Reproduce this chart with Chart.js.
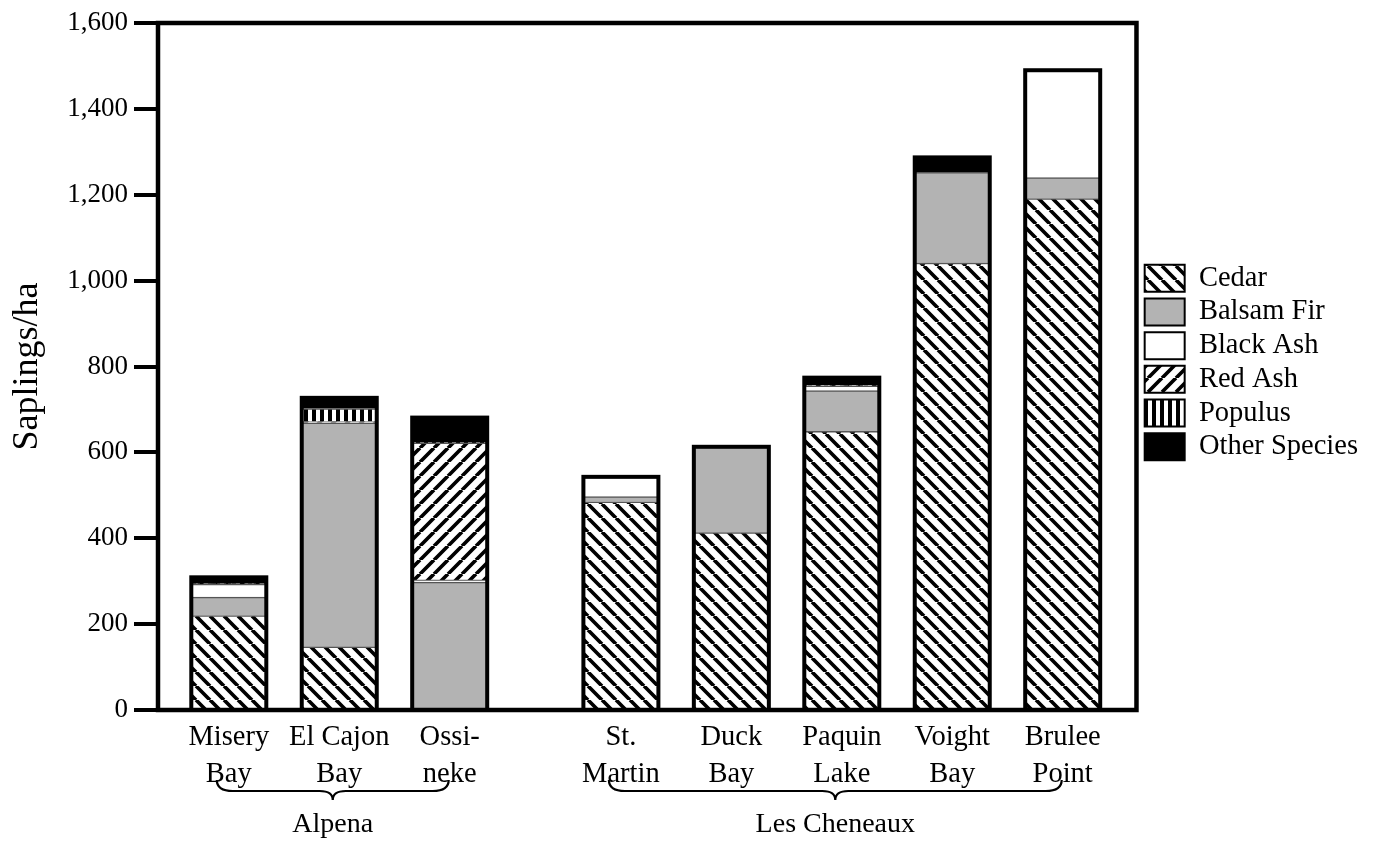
<!DOCTYPE html>
<html>
<head>
<meta charset="utf-8">
<title>Saplings per hectare by site</title>
<script src="https://cdn.jsdelivr.net/npm/chart.js@4/dist/chart.umd.min.js"></script>
<style>
  html, body { margin: 0; padding: 0; background: #fff; }
  #wrap { width: 1376px; height: 841px; }
</style>
</head>
<body>
<div id="wrap"><canvas id="c" width="1376" height="841"></canvas></div>
<script>
// Sites (two-line labels) and the region each belongs to
const sites = [
  ["Misery", "Bay"], ["El Cajon", "Bay"], ["Ossi-", "neke"],
  ["St.", "Martin"], ["Duck", "Bay"], ["Paquin", "Lake"], ["Voight", "Bay"], ["Brulee", "Point"]
];
const regions = ["Alpena", "Alpena", "Alpena",
  "Les Cheneaux", "Les Cheneaux", "Les Cheneaux", "Les Cheneaux", "Les Cheneaux"];

// Saplings/ha per species, one value per site
const cedar        = [220, 147,   0, 485, 413, 649, 1041, 1191];
const balsamFir    = [ 43, 522, 298,  12, 200,  95,  211,   49];
const blackAsh     = [ 30,   0,   5,  46,   0,  11,    0,  250];
const redAsh       = [  0,   3, 319,   0,   0,   0,    0,    0];
const populus      = [  0,  30,   0,   0,   0,   0,    0,    0];
const otherSpecies = [ 16,  25,  59,   0,   0,  19,   35,    0];

const yTicks = [0, 200, 400, 600, 800, 1000, 1200, 1400, 1600];

// Extra space (in category units) left between the two regions
const REGION_GAP = 0.55;
const regionNames = [...new Set(regions)];
const xPos = sites.map((s, i) => i + regionNames.indexOf(regions[i]) * REGION_GAP);

const SERIF = "'Liberation Serif', 'Times New Roman', Times, serif";
Chart.defaults.font.family = SERIF;
Chart.defaults.color = '#000';

// Fill patterns
function diagonal(backslash, period, width) {
  const c = document.createElement('canvas');
  c.width = c.height = period;
  const g = c.getContext('2d');
  g.fillStyle = '#fff';
  g.fillRect(0, 0, period, period);
  g.strokeStyle = '#000';
  g.lineWidth = width;
  g.beginPath();
  for (let k = -1; k <= 1; k++) {
    if (backslash) { g.moveTo(k * period, 0); g.lineTo(k * period + period, period); }
    else { g.moveTo(k * period, period); g.lineTo(k * period + period, 0); }
  }
  g.stroke();
  return g.createPattern(c, 'repeat');
}
function vertical(period, width) {
  const c = document.createElement('canvas');
  c.width = period; c.height = 4;
  const g = c.getContext('2d');
  g.fillStyle = '#fff';
  g.fillRect(0, 0, period, 4);
  g.fillStyle = '#000';
  g.fillRect(0, 0, width, 4);
  return g.createPattern(c, 'repeat');
}

const cedarFill = diagonal(true, 14, 3.7);
const redAshFill = diagonal(false, 14, 3.7);
const populusFill = vertical(8, 4);

const series = [
  { label: 'Cedar', data: cedar, fill: cedarFill },
  { label: 'Balsam Fir', data: balsamFir, fill: '#b3b3b3' },
  { label: 'Black Ash', data: blackAsh, fill: '#ffffff' },
  { label: 'Red Ash', data: redAsh, fill: redAshFill },
  { label: 'Populus', data: populus, fill: populusFill },
  { label: 'Other Species', data: otherSpecies, fill: '#000000' }
];

const datasets = series.map(s => ({
  label: s.label,
  data: s.data.map((v, i) => ({ x: xPos[i], y: v })),
  backgroundColor: s.fill,
  borderColor: '#555',
  borderWidth: { top: 1.5, right: 0, bottom: 0, left: 0 },
  borderSkipped: 'start',
  barThickness: 75
}));

// Thick outline around each whole stack
const stackOutline = {
  id: 'stackOutline',
  afterDatasetsDraw(chart) {
    const { ctx } = chart;
    const y = chart.scales.y;
    const meta = chart.getDatasetMeta(0);
    ctx.save();
    ctx.lineWidth = 4;
    ctx.strokeStyle = '#000';
    meta.data.forEach((bar, i) => {
      const total = series.reduce((sum, s) => sum + s.data[i], 0);
      const { x, width } = bar.getProps(['x', 'width'], true);
      const top = y.getPixelForValue(total);
      const base = y.getPixelForValue(0);
      ctx.strokeRect(x - width / 2, top, width, base - top);
    });
    ctx.restore();
  }
};

// Box around the plotting area
const plotFrame = {
  id: 'plotFrame',
  afterDatasetsDraw(chart) {
    const { ctx, chartArea: a } = chart;
    ctx.save();
    ctx.lineWidth = 4.5;
    ctx.strokeStyle = '#000';
    ctx.strokeRect(a.left, a.top, a.right - a.left, a.bottom - a.top);
    ctx.restore();
  }
};

// Curly braces under each region's sites, with the region name
const regionBraces = {
  id: 'regionBraces',
  afterDraw(chart) {
    const { ctx } = chart;
    const xs = chart.scales.x;
    ctx.save();
    ctx.strokeStyle = '#000';
    ctx.lineWidth = 2.2;
    ctx.fillStyle = '#000';
    ctx.font = '28px ' + SERIF;
    ctx.textAlign = 'center';
    ctx.textBaseline = 'alphabetic';
    regionNames.forEach(name => {
      const idx = regions.map((r, i) => r === name ? i : -1).filter(i => i >= 0);
      const x0 = xs.getPixelForValue(xPos[idx[0]]) - 12;
      const x1 = xs.getPixelForValue(xPos[idx[idx.length - 1]]) - 1;
      const mid = (x0 + x1) / 2;
      const yTop = 780, yMid = 791, yTip = 800, r = 16;
      ctx.beginPath();
      ctx.moveTo(x0, yTop);
      ctx.quadraticCurveTo(x0, yMid, x0 + r, yMid);
      ctx.lineTo(mid - 13, yMid);
      ctx.quadraticCurveTo(mid, yMid, mid, yTip);
      ctx.quadraticCurveTo(mid, yMid, mid + 13, yMid);
      ctx.lineTo(x1 - r, yMid);
      ctx.quadraticCurveTo(x1, yMid, x1, yTop);
      ctx.stroke();
      ctx.fillText(name, mid, 832);
    });
    ctx.restore();
  }
};

// Centre the legend block beside the plotting area
const legendPlace = {
  id: 'legendPlace',
  afterLayout(chart) {
    const lg = chart.legend;
    if (!lg) return;
    const a = chart.chartArea;
    lg.left += 3; lg.right += 3;
    lg.top = a.top - 4;
    lg.bottom = a.bottom - 4;
    lg.height = lg.bottom - lg.top;
  }
};

new Chart(document.getElementById('c'), {
  type: 'bar',
  data: { datasets },
  plugins: [stackOutline, plotFrame, regionBraces, legendPlace],
  options: {
    responsive: false,
    animation: false,
    layout: { padding: { left: 0, top: 23, right: 11, bottom: 0 } },
    plugins: {
      tooltip: { enabled: false },
      legend: {
        position: 'right',
        labels: {
          font: { size: 28.5, family: SERIF },
          color: '#000',
          boxWidth: 40,
          boxHeight: 27,
          padding: 5.2,
          generateLabels(chart) {
            const base = Chart.defaults.plugins.legend.labels.generateLabels(chart);
            return base.map(item => Object.assign(item, { lineWidth: 2, strokeStyle: '#000' }));
          }
        }
      }
    },
    scales: {
      x: {
        type: 'linear',
        stacked: true,
        offset: false,
        min: -0.641,
        max: 8.218,
        afterBuildTicks(axis) { axis.ticks = xPos.map(v => ({ value: v })); },
        afterFit(axis) { axis.height = 131; },
        grid: { display: false, drawTicks: false, offset: false },
        border: { display: false },
        ticks: {
          autoSkip: false,
          maxRotation: 0,
          minRotation: 0,
          padding: 9,
          font: { size: 28.5, family: SERIF, lineHeight: 1.29 },
          color: '#000',
          callback(value, index) { return sites[index]; }
        }
      },
      y: {
        stacked: true,
        min: yTicks[0],
        max: yTicks[yTicks.length - 1],
        afterBuildTicks(axis) { axis.ticks = yTicks.map(v => ({ value: v })); },
        afterFit(axis) { axis.width = 158; },
        grid: { drawOnChartArea: false, color: '#000', lineWidth: 4, tickLength: 24 },
        border: { display: false },
        ticks: {
          padding: 6,
          font: { size: 27, family: SERIF },
          color: '#000',
          callback(value) { return value.toLocaleString('en-US'); }
        },
        title: {
          display: true,
          text: 'Saplings/ha',
          font: { size: 36, family: SERIF },
          color: '#000',
          padding: { top: 6, bottom: 0 }
        }
      }
    }
  }
});
</script>
</body>
</html>
